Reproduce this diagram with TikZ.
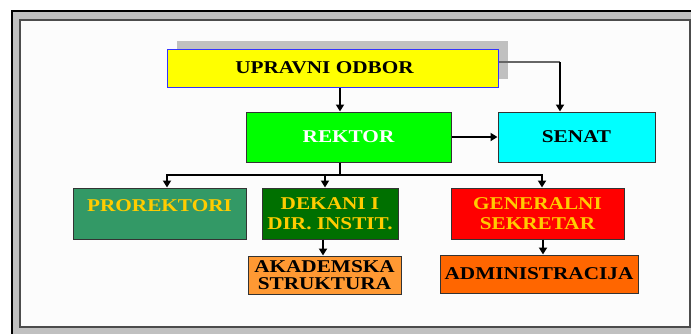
\documentclass[tikz,border=0pt]{standalone}
\usepackage{fontspec}
\setmainfont{Liberation Serif}[FakeStretch=1.18]
\usetikzlibrary{arrows.meta}

\definecolor{framegray}{HTML}{C0C0C0}
\definecolor{boxline}{HTML}{333333}
\definecolor{blueline}{HTML}{3333FF}
\definecolor{goldtext}{HTML}{FFCC00}
\definecolor{upravnifill}{HTML}{FFFF00}
\definecolor{rektorfill}{HTML}{00FF00}
\definecolor{senatfill}{HTML}{00FFFF}
\definecolor{prorfill}{HTML}{339966}
\definecolor{dekanifill}{HTML}{007000}
\definecolor{genfill}{HTML}{FF0000}
\definecolor{akadfill}{HTML}{FF9933}
\definecolor{adminfill}{HTML}{FF6600}

\tikzset{
  orgbox/.style={draw=boxline, line width=1pt, inner sep=0pt, align=center,
    font=\fontsize{18}{20}\selectfont\bfseries},
  link/.style={line width=1.8pt, -{Triangle[width=8pt,length=7pt]}}
}

\begin{document}
\begin{tikzpicture}[x=1pt,y=-1pt]
    \useasboundingbox (0,0) rectangle (691,333);

    % frame
    \fill[framegray] (12,11) rectangle (700,340);
    \draw[line width=2pt] (12,340) -- (12,11) -- (700,11);
    \filldraw[fill=white!99!black, draw=black!70, line width=1.5pt] (20,20) rectangle (690,327);

    % shadow of the board
    \fill[framegray] (177,41) rectangle (508,79);

    \node[orgbox, draw=blueline, fill=upravnifill, minimum width=331, minimum height=38] (upravni) at (332.5,68) {UPRAVNI ODBOR\hspace*{16pt}};
    \node[orgbox, fill=rektorfill, text=white, minimum width=205, minimum height=50] (rektor) at (348.5,137) {REKTOR};
    \node[orgbox, fill=senatfill, minimum width=157, minimum height=50] (senat) at (576.5,137) {SENAT};

    \node[orgbox, fill=prorfill, text=goldtext, minimum width=173, minimum height=51, text height=12pt, text depth=17pt] (prorektori) at (159.5,213.5) {PROREKTORI};
    \node[orgbox, fill=dekanifill, text=goldtext, minimum width=136, minimum height=51] (dekani) at (330,213.5) {DEKANI I\\DIR. INSTIT.};
    \node[orgbox, fill=genfill, text=goldtext, minimum width=173, minimum height=51] (generalni) at (537.5,213.5) {GENERALNI\\SEKRETAR};

    \node[orgbox, fill=akadfill, minimum width=153, minimum height=38, font=\fontsize{18}{17}\selectfont\bfseries] (akademska) at (324.5,275) {AKADEMSKA\\STRUKTURA};
    \node[orgbox, fill=adminfill, minimum width=198, minimum height=38] (admin) at (539,274) {ADMINISTRACIJA};

    \coordinate (rin) at ([xshift=-8.5pt]rektor.north);
    \coordinate (sin) at ([xshift=-16.5pt]senat.north);
    \coordinate (uo) at ([yshift=6pt]upravni.east);
    \coordinate (bus) at (340,175);
    \coordinate (pin) at ([xshift=7.5pt]prorektori.north);
    \coordinate (din) at ([xshift=-5pt]dekani.north);
    \coordinate (gin) at ([xshift=4.5pt]generalni.north);
    \coordinate (ain) at ([xshift=-1.5pt]akademska.north);
    \coordinate (min) at ([xshift=4pt]admin.north);

    \draw[link] (upravni.south -| rin) -- (rin);
    \draw[black!60, line width=1.3pt] (uo) -- (uo -| sin);
    \draw[link] (uo -| sin) -- (sin);
    \draw[link] (rektor.east) -- (senat.west);

    \draw[link] (rektor.south -| bus) -- (bus) -| (pin);
    \draw[link] (bus) -| (gin);
    \draw[link] (bus -| din) -- (din);

    \draw[link] (dekani.south -| ain) -- (ain);
    \draw[link] (generalni.south -| min) -- (min);

\end{tikzpicture}
\end{document}
